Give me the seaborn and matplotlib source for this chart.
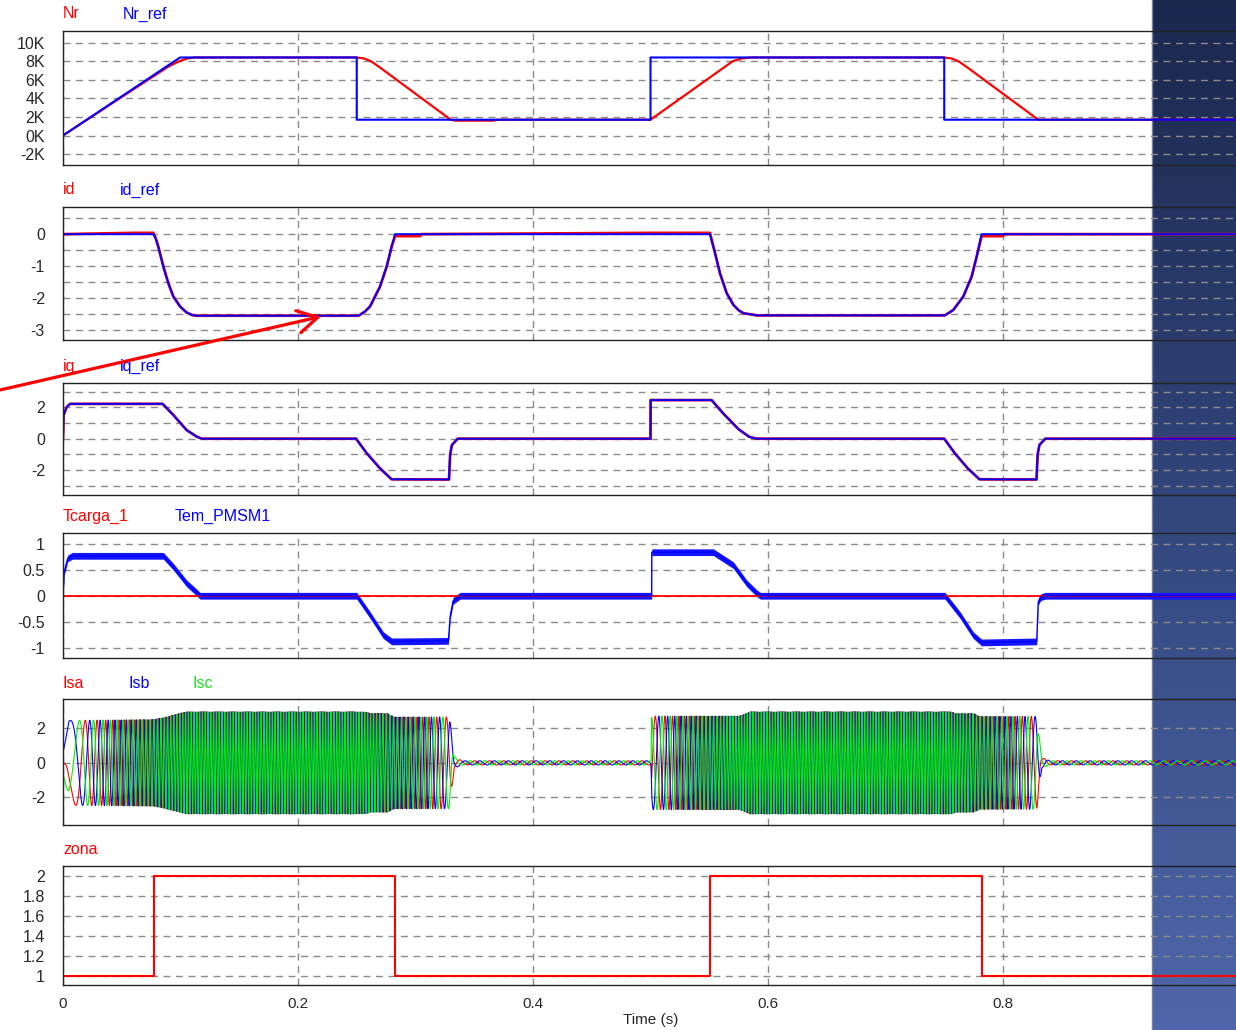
import numpy as np
import matplotlib
matplotlib.use("Agg")
import matplotlib.pyplot as plt
import seaborn as sns
from matplotlib.patches import FancyArrowPatch
from matplotlib.colors import LinearSegmentedColormap

# -------------------------------
# Data
# -------------------------------
# speed (rpm)
nr_ref_t = [0.0, 0.0996, 0.25, 0.25, 0.5, 0.5, 0.75, 0.75, 1.0]
nr_ref_v = [0, 8400, 8400, 1700, 1700, 8400, 8400, 1700, 1700]
nr_t = [0.0, 0.05, 0.09, 0.1, 0.106, 0.112, 0.25, 0.256, 0.262, 0.27, 0.33,
        0.334, 0.366, 0.37, 0.5, 0.53, 0.57, 0.578, 0.586, 0.75, 0.756, 0.762,
        0.77, 0.83, 1.0]
nr_v = [0, 4150, 7450, 8050, 8300, 8400, 8400, 8300, 8000, 7300, 1700,
        1600, 1600, 1700, 1700, 4400, 8000, 8300, 8400, 8400, 8300, 8000,
        7300, 1700, 1700]

# d-axis current
id_ref_t = [0.0, 0.0769, 0.0790, 0.0811, 0.0854, 0.0896, 0.0939, 0.0996, 0.1052, 0.1100, 0.1138,
            0.2513, 0.2528, 0.2570, 0.2613, 0.2698, 0.2755, 0.2797, 0.2826,
            0.5506, 0.5549, 0.5591, 0.5648, 0.5705, 0.5750, 0.5790, 0.5904,
            0.7506, 0.7577, 0.7662, 0.7733, 0.7776, 0.7818, 1.0]
id_ref_v = [0.0, 0.0, -0.14, -0.39, -1.01, -1.53, -1.95, -2.26, -2.45, -2.53, -2.55,
            -2.55, -2.52, -2.42, -2.26, -1.64, -1.01, -0.39, 0.0,
            0.0, -0.59, -1.22, -1.84, -2.21, -2.38, -2.47, -2.54,
            -2.54, -2.37, -1.95, -1.33, -0.70, 0.0, 0.0]
id_t = [0.0, 0.06, 0.0769, 0.0790, 0.0811, 0.0854, 0.0896, 0.0939, 0.0996, 0.1052, 0.1100, 0.1138,
        0.2513, 0.2528, 0.2570, 0.2613, 0.2698, 0.2755, 0.2797, 0.2826, 0.304, 0.305,
        0.5, 0.5506, 0.5549, 0.5591, 0.5648, 0.5705, 0.5750, 0.5790, 0.5904,
        0.7506, 0.7577, 0.7662, 0.7733, 0.7776, 0.7818, 0.80, 0.801, 1.0]
id_v = [0.0, 0.04, 0.04, -0.14, -0.39, -1.01, -1.53, -1.95, -2.26, -2.45, -2.53, -2.55,
        -2.55, -2.52, -2.42, -2.26, -1.64, -1.01, -0.39, -0.06, -0.06, 0.0,
        0.04, 0.04, -0.59, -1.22, -1.84, -2.21, -2.38, -2.47, -2.54,
        -2.54, -2.37, -1.95, -1.33, -0.70, -0.06, -0.06, 0.0, 0.0]

# q-axis current
iq_t = [0.0, 0.0005, 0.003, 0.006, 0.0848, 0.0939, 0.1052, 0.1138, 0.118,
        0.2494, 0.2585, 0.2698, 0.2797, 0.3285, 0.3295, 0.331, 0.336,
        0.5, 0.5001, 0.552, 0.562, 0.575, 0.584, 0.59,
        0.75, 0.759, 0.77, 0.78, 0.8285, 0.8295, 0.831, 0.836, 1.0]
iq_v = [0.0, 1.5, 2.0, 2.22, 2.22, 1.51, 0.55, 0.13, 0.0,
        0.0, -0.93, -1.89, -2.59, -2.6, -1.0, -0.4, 0.0,
        0.0, 2.46, 2.46, 1.6, 0.6, 0.12, 0.0,
        0.0, -0.93, -1.89, -2.59, -2.6, -1.0, -0.4, 0.0, 0.0]
iq_ref_v = list(iq_v)

# torque
tcarga_t = [0.0, 1.0]
tcarga_v = [0.0, 0.0]
tem_t = [0.0, 0.001, 0.004, 0.008, 0.0854, 0.0939, 0.1052, 0.1137, 0.1166,
         0.25, 0.2613, 0.2726, 0.2797, 0.328, 0.3295, 0.332, 0.338,
         0.501, 0.5011, 0.5535, 0.5705, 0.5819, 0.5904, 0.5935,
         0.7506, 0.7634, 0.7747, 0.7818, 0.8287, 0.830, 0.832, 0.836, 1.0]
tem_v = [0.0, 0.45, 0.72, 0.77, 0.77, 0.56, 0.24, 0.065, 0.0,
         0.0, -0.37, -0.76, -0.88, -0.87, -0.4, -0.1, 0.0,
         0.0, 0.84, 0.84, 0.59, 0.24, 0.05, 0.0,
         0.0, -0.37, -0.76, -0.9, -0.88, -0.12, -0.03, 0.0, 0.0]
TEM_RIPPLE = 0.065

# stator currents: peak envelope + pole pairs (phase follows Nr)
is_env_t = [0.0, 0.005, 0.077, 0.085, 0.105, 0.257, 0.262, 0.276, 0.282, 0.329,
            0.333, 0.34, 0.5005, 0.501, 0.576, 0.585, 0.755, 0.76, 0.775, 0.78,
            0.8287, 0.833, 0.84, 1.0]
is_env_v = [0.7, 2.45, 2.5, 2.6, 2.95, 2.95, 2.85, 2.85, 2.65, 2.65,
            0.3, 0.12, 0.12, 2.7, 2.7, 2.95, 2.95, 2.85, 2.85, 2.68,
            2.68, 0.3, 0.12, 0.12]
POLE_PAIRS = 3

# zona
zona_t = [0.0, 0.0774, 0.2826, 0.5506, 0.782, 1.0]
zona_v = [1, 2, 1, 2, 1, 1]

# -------------------------------
# Build stator currents
# -------------------------------
dt = 1e-4
ts = np.arange(0, 1.0 + dt, dt)
speed = np.interp(ts, nr_t, nr_v)
theta = 2 * np.pi * POLE_PAIRS * np.cumsum(speed / 60.0) * dt
amp = np.interp(ts, is_env_t, is_env_v)
isa = -amp * np.sin(theta)
isb = -amp * np.sin(theta - 2 * np.pi / 3)
isc = -amp * np.sin(theta + 2 * np.pi / 3)

# -------------------------------
# Figure
# -------------------------------
sns.set_style("white")
plt.rcParams["font.family"] = ["Liberation Sans", "DejaVu Sans"]

W, H = 1236, 1030
RED, BLUE, GREEN = "#ff0000", "#0000ff", "#00ee00"
fig = plt.figure(figsize=(W / 100, H / 100), dpi=100, facecolor="white")

# blue slide background on the right
bg = fig.add_axes([0, 0, 1, 1], zorder=-5)
grad = np.linspace(0, 1, 256).reshape(-1, 1)
cmap = LinearSegmentedColormap.from_list("slide", ["#1b274d", "#33477d", "#4f67aa"])
bg.imshow(grad, extent=[1152 / W, 1, 0, 1], aspect="auto", cmap=cmap, origin="upper")
bg.axvline(1152 / W, color="#6f7fa5", lw=1.0)
bg.set_xlim(0, 1)
bg.set_ylim(0, 1)
bg.axis("off")


def panel(top, bottom):
    return fig.add_axes([63 / W, 1 - bottom / H, 1175 / W, (bottom - top) / H])


def trace(ax, t, v, color, lw, **kw):
    sns.lineplot(x=t, y=v, ax=ax, color=color, linewidth=lw,
                 estimator=None, sort=False, **kw)


def style(ax, ylim, ticks, labels, grid_y, bottom=False):
    ax.set_facecolor("none")
    ax.set_xlim(0, 1.0)
    ax.set_ylim(*ylim)
    ax.set_yticks(ticks)
    ax.set_yticklabels(labels)
    ax.set_yticks([g for g in grid_y if g not in ticks], minor=True)
    ax.set_xticks([0, 0.2, 0.4, 0.6, 0.8])
    ax.grid(False)
    ax.grid(which="both", axis="y", color="#8a8a8a", lw=1.0, ls=(0, (5, 4)))
    ax.grid(which="major", axis="x", color="#8a8a8a", lw=1.0, ls=(0, (5, 4)))
    ax.tick_params(axis="y", which="both", length=0, labelsize=11.5, pad=13)
    ax.tick_params(axis="x", which="both", length=0, labelsize=11, pad=9)
    ax.set_xlabel("")
    ax.set_ylabel("")
    for s in ["top", "bottom", "left"]:
        ax.spines[s].set_color("#222222")
        ax.spines[s].set_linewidth(1.0)
    ax.spines["right"].set_visible(False)
    if bottom:
        ax.set_xticklabels(["0", "0.2", "0.4", "0.6", "0.8"])
        ax.set_xlabel("Time (s)", fontsize=11, labelpad=1)
    else:
        ax.set_xticklabels([])


def names(y, items):
    for x, txt, c in items:
        fig.text(x / W, 1 - y / H, txt, color=c, fontsize=11.5, va="center", ha="left")


# -------------------------------
# Nr / Nr_ref
# -------------------------------
ax1 = panel(31, 164.5)
trace(ax1, nr_t, nr_v, RED, 1.6)
trace(ax1, nr_ref_t, nr_ref_v, BLUE, 1.5)
style(ax1, (-3120, 11250), [-2000, 0, 2000, 4000, 6000, 8000, 10000],
      ["-2K", "0K", "2K", "4K", "6K", "8K", "10K"],
      [-2000, 0, 2000, 4000, 6000, 8000, 10000])
names(14, [(63, "Nr", RED), (123, "Nr_ref", BLUE)])

# -------------------------------
# id / id_ref
# -------------------------------
ax2 = panel(207, 340)
trace(ax2, id_t, id_v, RED, 2.0)
trace(ax2, id_ref_t, id_ref_v, BLUE, 1.4)
style(ax2, (-3.31, 0.85), [-3, -2, -1, 0], ["-3", "-2", "-1", "0"],
      [-3, -2.5, -2, -1.5, -1, -0.5, 0, 0.5])
names(190, [(63, "id", RED), (120, "id_ref", BLUE)])

# -------------------------------
# iq / iq_ref
# -------------------------------
ax3 = panel(383, 495)
trace(ax3, iq_t, iq_v, RED, 2.0)
trace(ax3, iq_t, iq_ref_v, BLUE, 1.4)
style(ax3, (-3.59, 3.55), [-2, 0, 2], ["-2", "0", "2"], [-3, -2, -1, 0, 1, 2, 3])
names(366, [(63, "iq", RED), (120, "iq_ref", BLUE)])

# -------------------------------
# Tcarga_1 / Tem_PMSM1
# -------------------------------
ax4 = panel(533, 658)
trace(ax4, tcarga_t, tcarga_v, RED, 1.3)
tem = np.array(tem_v)
ax4.fill_between(tem_t, tem - TEM_RIPPLE, tem + TEM_RIPPLE, color="#1414ff", lw=0)
trace(ax4, tem_t, tem_v, BLUE, 1.0)
style(ax4, (-1.20, 1.21), [-1, -0.5, 0, 0.5, 1], ["-1", "-0.5", "0", "0.5", "1"],
      [-1, -0.5, 0, 0.5, 1])
names(516, [(63, "Tcarga_1", RED), (175, "Tem_PMSM1", BLUE)])

# -------------------------------
# Isa / Isb / Isc
# -------------------------------
ax5 = panel(699, 825)
trace(ax5, ts, isa, RED, 0.8)
trace(ax5, ts, isb, BLUE, 0.8)
trace(ax5, ts, isc, GREEN, 0.8)
style(ax5, (-3.59, 3.69), [-2, 0, 2], ["-2", "0", "2"], [-2, 0, 2])
names(683, [(63, "Isa", RED), (128, "Isb", BLUE), (193, "Isc", "#22dd22")])

# -------------------------------
# zona
# -------------------------------
ax6 = panel(866, 985)
trace(ax6, zona_t, zona_v, RED, 1.5, drawstyle="steps-post")
style(ax6, (0.906, 2.10), [1, 1.2, 1.4, 1.6, 1.8, 2],
      ["1", "1.2", "1.4", "1.6", "1.8", "2"], [1, 1.2, 1.4, 1.6, 1.8, 2], bottom=True)
names(850, [(63, "zona", RED)])

# -------------------------------
# red arrow annotation
# -------------------------------
arrow = FancyArrowPatch((0, 1 - 390 / H), (321 / W, 1 - 316.5 / H),
                        transform=fig.transFigure, color=RED, lw=2.3,
                        arrowstyle="->,head_length=0.8,head_width=0.45",
                        mutation_scale=18, shrinkA=0, shrinkB=0, zorder=20)
fig.add_artist(arrow)

fig.savefig("out.png", dpi=100, facecolor="white")
